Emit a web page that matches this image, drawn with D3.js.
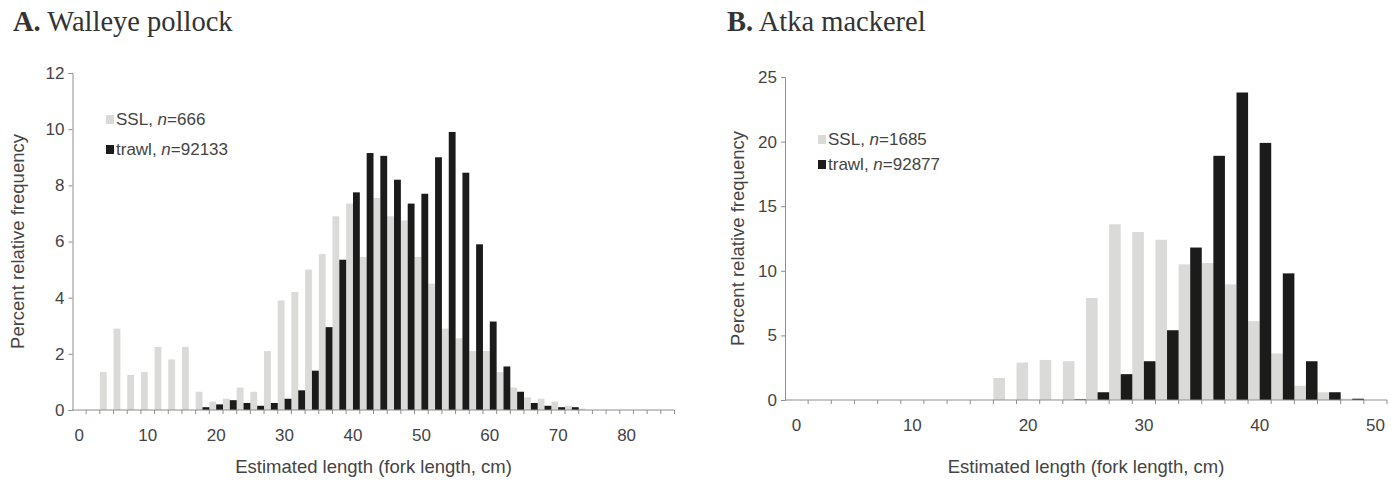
<!DOCTYPE html>
<html>
<head>
<meta charset="utf-8">
<script src="https://cdn.jsdelivr.net/npm/d3@7"></script>
<style>
  body { margin: 0; background: #fff; }
  svg text { font-family: "Liberation Sans", Arial, sans-serif; fill: #444; }
  .title { font-family: "Liberation Serif", "Times New Roman", serif; fill: #333; font-size: 28.5px; }
</style>
</head>
<body>
<script>
// length classes (cm), 2 cm bins
var lengthsA = [0, 2, 4, 6, 8, 10, 12, 14, 16, 18, 20, 22, 24, 26, 28, 30, 32, 34, 36, 38, 40, 42,
                44, 46, 48, 50, 52, 54, 56, 58, 60, 62, 64, 66, 68, 70, 72, 74, 76, 78, 80, 82, 84, 86];
var sslA = [0, 0, 1.35, 2.9, 1.25, 1.35, 2.25, 1.8, 2.25, 0.65, 0.3, 0.4, 0.8, 0.65, 2.1, 3.9, 4.2, 5.0, 5.55, 6.9, 7.35, 5.45,
            7.55, 6.9, 6.75, 5.45, 4.5, 2.9, 2.55, 2.1, 2.1, 1.35, 0.8, 0.45, 0.4, 0.3, 0.15, 0.05, 0, 0, 0, 0, 0, 0];
var trawlA = [0, 0, 0, 0, 0, 0, 0, 0, 0, 0.1, 0.2, 0.35, 0.25, 0.15, 0.25, 0.4, 0.7, 1.4, 2.95, 5.35, 7.75, 9.15,
              9.05, 8.2, 7.35, 7.7, 9.0, 9.9, 8.45, 5.9, 3.15, 1.55, 0.65, 0.25, 0.15, 0.1, 0.1, 0, 0, 0, 0, 0, 0, 0];
var xLabelsA = [0, 10, 20, 30, 40, 50, 60, 70, 80];
var yTicksA = [0, 2, 4, 6, 8, 10, 12];

var lengthsB = [0, 2, 4, 6, 8, 10, 12, 14, 16, 18, 20, 22, 24, 26, 28, 30, 32, 34, 36, 38, 40, 42, 44, 46, 48, 50];
var sslB = [0, 0, 0, 0, 0, 0, 0, 0, 0, 1.7, 2.9, 3.1, 3.0, 7.9, 13.6, 13.0, 12.4, 10.5, 10.6, 8.95, 6.1, 3.6, 1.1, 0.6, 0.1, 0];
var trawlB = [0, 0, 0, 0, 0, 0, 0, 0, 0, 0, 0, 0, 0.05, 0.6, 2.0, 3.0, 5.4, 11.8, 18.9, 23.8, 19.9, 9.8, 3.0, 0.6, 0.1, 0];
var xLabelsB = [0, 10, 20, 30, 40, 50];
var yTicksB = [0, 5, 10, 15, 20, 25];

var svg = d3.select("body").append("svg")
    .attr("width", 1391)
    .attr("height", 480);

function drawPanel(p){
    var g = svg.append("g");
    var data = p.lengths.map(function(d, i){ return {len: d, ssl: p.ssl[i], trawl: p.trawl[i]}; });

    var x = d3.scaleBand().domain(p.lengths).range([p.left, p.right]).padding(0);
    var y = d3.scaleLinear().domain([0, p.ymax]).range([p.bottom, p.top]);
    var bw = x.bandwidth();

    // SSL bars (left half of bin)
    g.append("g").selectAll("rect").data(data).enter().append("rect")
        .attr("x", function(d){ return x(d.len); })
        .attr("y", function(d){ return y(d.ssl); })
        .attr("width", bw / 2)
        .attr("height", function(d){ return y(0) - y(d.ssl); })
        .attr("fill", "#dadad8");

    // trawl bars (right half)
    g.append("g").selectAll("rect").data(data).enter().append("rect")
        .attr("x", function(d){ return x(d.len) + bw / 2; })
        .attr("y", function(d){ return y(d.trawl); })
        .attr("width", bw / 2)
        .attr("height", function(d){ return y(0) - y(d.trawl); })
        .attr("fill", "#1b1b1b");

    // y axis
    var yAxis = d3.axisLeft(y).tickValues(p.yTicks).tickSize(4).tickPadding(4);
    var yg = g.append("g").attr("transform", "translate(" + p.left + ",0)").call(yAxis);
    yg.select(".domain").attr("stroke", "#8e8e8e");
    yg.selectAll(".tick line").attr("stroke", "#8e8e8e");
    yg.selectAll("text").style("font-size", "17px").attr("fill", "#4a4a4a");

    // x axis: labels every 10 cm, tick marks at every bin boundary
    var xAxis = d3.axisBottom(x).tickValues(p.xLabels).tickSize(0).tickPadding(19);
    var xg = g.append("g").attr("transform", "translate(0," + p.bottom + ")").call(xAxis);
    xg.select(".domain").remove();
    xg.selectAll("text").style("font-size", "17px").attr("fill", "#4a4a4a");

    g.append("line")
        .attr("x1", p.left).attr("x2", p.right)
        .attr("y1", p.bottom).attr("y2", p.bottom)
        .attr("stroke", "#8e8e8e");
    g.append("g").selectAll("line").data(p.lengths.slice(1)).enter().append("line")
        .attr("x1", function(d){ return x(d); }).attr("x2", function(d){ return x(d); })
        .attr("y1", p.bottom).attr("y2", p.bottom + 4)
        .attr("stroke", "#8e8e8e");
    g.append("line")
        .attr("x1", p.right).attr("x2", p.right)
        .attr("y1", p.bottom).attr("y2", p.bottom + 4)
        .attr("stroke", "#8e8e8e");

    // axis titles
    g.append("text")
        .attr("x", (p.left + p.right) / 2).attr("y", 473)
        .attr("text-anchor", "middle")
        .style("font-size", "18.5px")
        .text("Estimated length (fork length, cm)");
    g.append("text")
        .attr("transform", "translate(" + p.ytitleX + "," + ((p.top + p.bottom) / 2) + ") rotate(-90)")
        .attr("text-anchor", "middle")
        .attr("dy", "0.35em")
        .style("font-size", "18.5px")
        .text("Percent relative frequency");

    // panel title
    var t = g.append("text").attr("class", "title").attr("x", p.titleX).attr("y", 31);
    t.append("tspan").style("font-weight", "bold").text(p.letter);
    t.append("tspan").text(" " + p.name);

    // legend
    var leg = [{c: "#dadad8", lab: "SSL, ", n: p.nSSL, yy: p.legY[0]},
               {c: "#1b1b1b", lab: "trawl, ", n: p.nTrawl, yy: p.legY[1]}];
    leg.forEach(function(l){
        g.append("rect").attr("x", p.legX).attr("y", l.yy - 10).attr("width", 8).attr("height", 9).attr("fill", l.c);
        var tx = g.append("text").attr("x", p.legX + 10).attr("y", l.yy).style("font-size", "17px");
        tx.append("tspan").text(l.lab);
        tx.append("tspan").style("font-style", "italic").text("n");
        tx.append("tspan").text("=" + l.n);
    });
}

drawPanel({
    lengths: lengthsA, ssl: sslA, trawl: trawlA, xLabels: xLabelsA, yTicks: yTicksA,
    left: 72.5, right: 674.5, top: 73, bottom: 410, ymax: 12,
    ytitleX: 18, titleX: 13, letter: "A.", name: "Walleye pollock",
    legX: 106, legY: [125, 155], nSSL: "666", nTrawl: "92133"
});

drawPanel({
    lengths: lengthsB, ssl: sslB, trawl: trawlB, xLabels: xLabelsB, yTicks: yTicksB,
    left: 785, right: 1387, top: 77, bottom: 400, ymax: 25,
    ytitleX: 738, titleX: 727, letter: "B.", name: "Atka mackerel",
    legX: 818, legY: [145, 170], nSSL: "1685", nTrawl: "92877"
});
</script>
</body>
</html>
